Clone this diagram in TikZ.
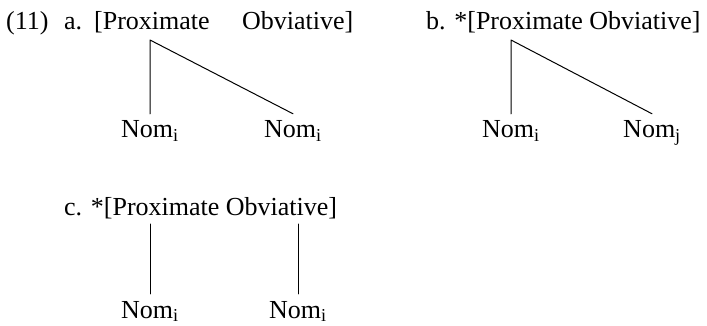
\documentclass[tikz,border=0pt]{standalone}
\usepackage{fontspec}
\setmainfont{Liberation Serif}
\begin{document}
\begin{tikzpicture}[x=1pt,y=-1pt, font=\fontsize{26}{30}\selectfont, line join=round, line cap=round,
	txt/.style={anchor=base west, inner sep=0pt},
	nom/.style={anchor=base, inner xsep=0pt, inner ysep=7pt},
	branch/.style={line width=1pt}]
			\useasboundingbox (0,0) rectangle (707,326);
			%\draw[color=gray!50,dashed] (0,0) grid[step=50] (707,326);
			\def\ytop{30} \def\ynom{138}
			\def\yc{215} \def\ycnom{318}
			% (11a)
			\node[txt] (ex) at (6,\ytop) {(11)};
			\node[txt] (a-lbl) at (64,\ytop) {a.};
			\node[txt] (a-prox) at (94,\ytop) {[Proximate};
			\node[txt] (a-obv) at (242,\ytop) {Obviative]};
			\coordinate (a-top) at (150,\ytop+10);
			\node[nom] (a-nom1) at (150,\ynom) {Nom\textsubscript{i}};
			\node[nom] (a-nom2) at (293,\ynom) {Nom\textsubscript{i}};
			\draw[branch] (a-nom1.north)--(a-top)--(a-nom2.north);
			% (11b)
			\node[txt] (b-lbl) at (426,\ytop) {b. *[Proximate Obviative]};
			\coordinate (b-top) at (511,\ytop+10);
			\node[nom] (b-nom1) at (511,\ynom) {Nom\textsubscript{i}};
			\node[nom] (b-nom2) at (652,\ynom) {Nom\textsubscript{j}};
			\draw[branch] (b-nom1.north)--(b-top)--(b-nom2.north);
			% (11c)
			\node[txt] (c-lbl) at (64,\yc) {c. *[Proximate Obviative]};
			\coordinate (c-top1) at (150,\yc+9);
			\coordinate (c-top2) at (298,\yc+9);
			\node[nom] (c-nom1) at (150,\ycnom) {Nom\textsubscript{i}};
			\node[nom] (c-nom2) at (298,\ycnom) {Nom\textsubscript{i}};
			\foreach \i in {1,2}
			\draw[branch] (c-top\i)--(c-nom\i.north);
		\end{tikzpicture}
\end{document}
